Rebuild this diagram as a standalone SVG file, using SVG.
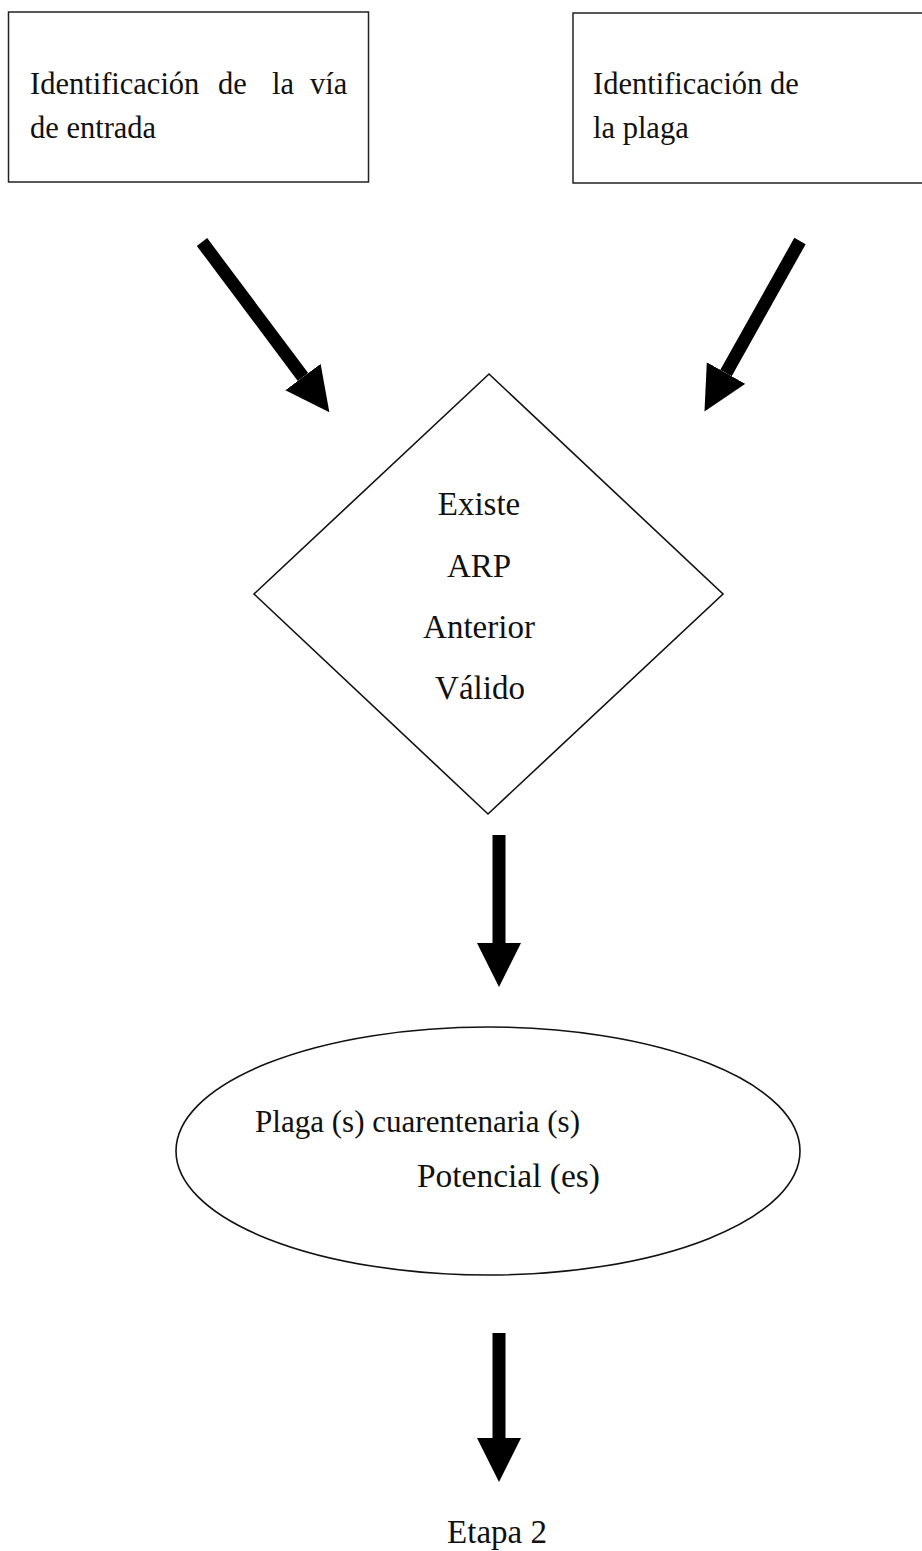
<svg xmlns="http://www.w3.org/2000/svg" width="922" height="1551" viewBox="0 0 922 1551">
<style>
  .t { font-family: "Liberation Serif", "Times New Roman", serif; fill: #111; }
  .box { fill: #fff; stroke: #222; stroke-width: 1.5; }
  .shape { fill: #fff; stroke: #111; stroke-width: 1.6; }
  .arr { stroke: #000; stroke-width: 13; fill: none; stroke-linecap: butt; marker-end: url(#head); }
</style>
<defs>
  <marker id="head" markerUnits="userSpaceOnUse" markerWidth="46" markerHeight="46" refX="0" refY="22" orient="auto" viewBox="0 0 46 46">
    <path d="M0,0 L44,22 L0,44 Z" fill="#000"/>
  </marker>
</defs>
<rect width="922" height="1551" fill="#fff"/>

<g id="node-via">
  <rect class="box" x="8.5" y="12" width="360" height="170"/>
  <text class="t" font-size="30.5" y="94"><tspan x="30">Identificación</tspan><tspan x="218">de</tspan><tspan x="272">la</tspan><tspan x="310">vía</tspan></text>
  <text class="t" font-size="30.5" x="30" y="138">de entrada</text>
</g>

<g id="node-plaga">
  <rect class="box" x="573" y="13" width="370" height="170"/>
  <text class="t" font-size="30.5" x="593" y="94">Identificación de</text>
  <text class="t" font-size="30.5" x="593" y="138">la plaga</text>
</g>

<g id="node-decision">
  <polygon class="shape" points="489,374 723,594 488,814 254,594"/>
  <text class="t" font-size="33" text-anchor="middle" x="479" y="515">Existe</text>
  <text class="t" font-size="33" text-anchor="middle" x="479" y="577">ARP</text>
  <text class="t" font-size="33" text-anchor="middle" x="479" y="638">Anterior</text>
  <text class="t" font-size="33" text-anchor="middle" x="480" y="699">Válido</text>
</g>

<g id="node-cuarentenaria">
  <ellipse class="shape" cx="488" cy="1151" rx="312" ry="124"/>
  <text class="t" font-size="31" x="255" y="1132" textLength="325" lengthAdjust="spacingAndGlyphs">Plaga (s) cuarentenaria (s)</text>
  <text class="t" font-size="33" x="417" y="1187" textLength="183" lengthAdjust="spacingAndGlyphs">Potencial (es)</text>
</g>

<g id="node-etapa2">
  <text class="t" font-size="33" text-anchor="middle" x="497" y="1543">Etapa 2</text>
</g>

<g id="connectors">
  <line class="arr" x1="202" y1="242" x2="303" y2="377"/>
  <line class="arr" x1="800" y1="241" x2="726" y2="373"/>
  <line class="arr" x1="499" y1="835" x2="499" y2="943"/>
  <line class="arr" x1="499" y1="1333" x2="499" y2="1438"/>
</g>
</svg>
